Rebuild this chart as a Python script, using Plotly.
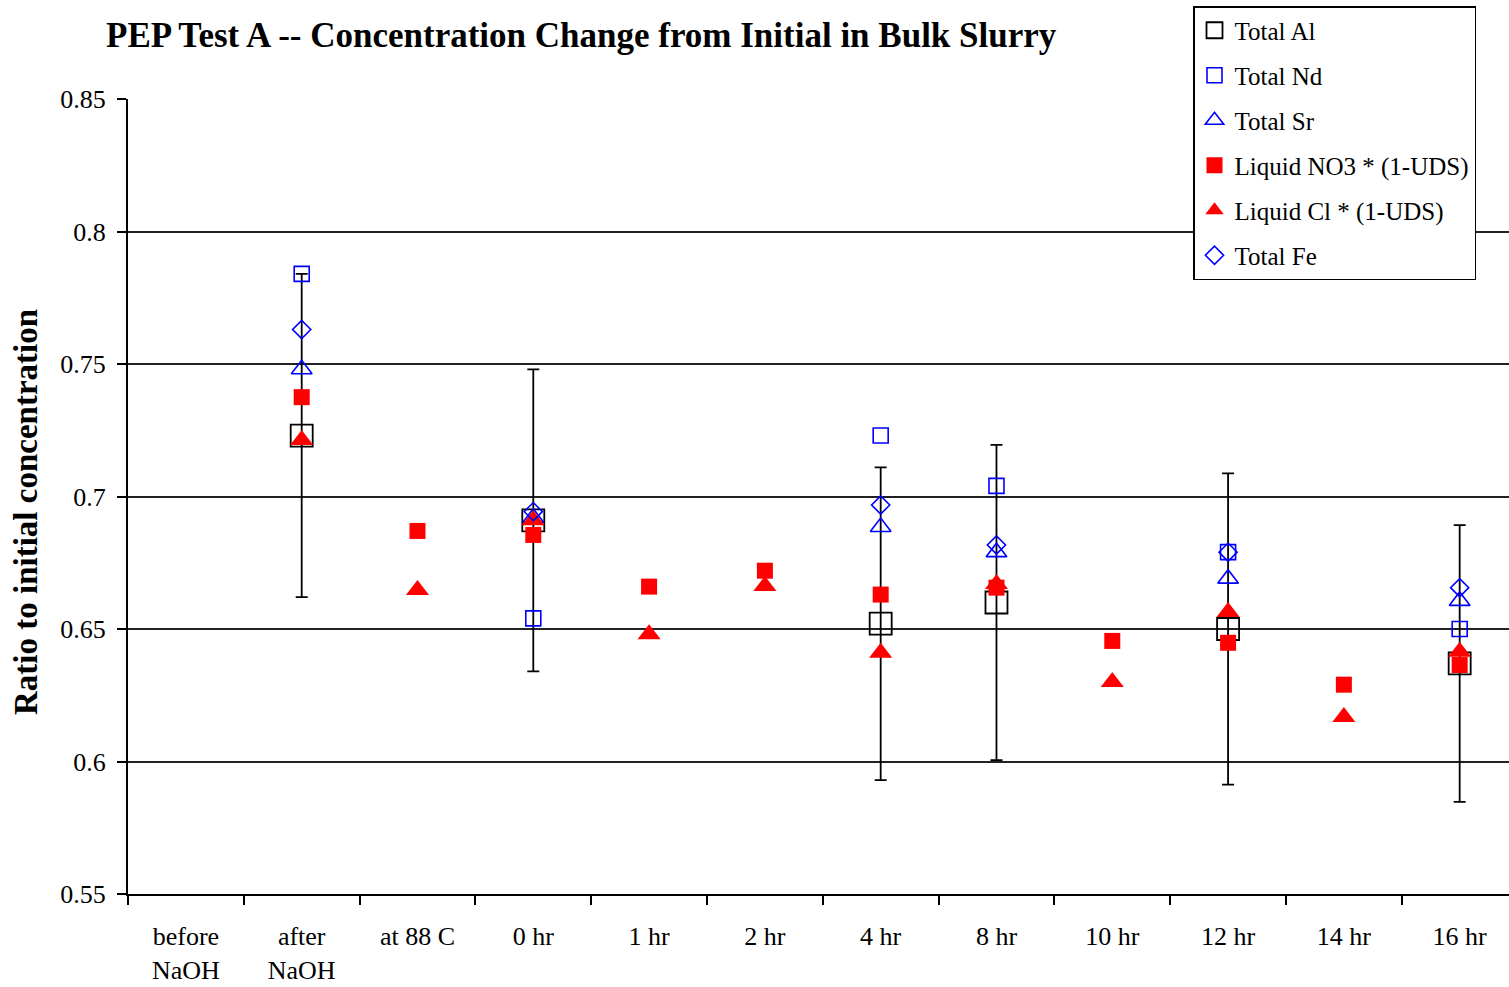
import plotly.graph_objects as go

categories = ["before<br>NaOH", "after<br>NaOH", "at 88 C", "0 hr", "1 hr", "2 hr",
              "4 hr", "8 hr", "10 hr", "12 hr", "14 hr", "16 hr"]

total_al = [None, 0.723, None, 0.691, None, None, 0.652, 0.660, None, 0.650, None, 0.637]
total_al_err = [None, 0.061, None, 0.057, None, None, 0.059, 0.0595, None, 0.0587, None, 0.0522]
total_nd = [None, 0.784, None, 0.654, None, None, 0.723, 0.704, None, 0.679, None, 0.650]
total_sr = [None, 0.748, None, 0.692, None, None, 0.6885, 0.679, None, 0.669, None, 0.6606]
liquid_no3 = [None, 0.7375, 0.687, 0.6855, 0.666, 0.672, 0.663, 0.6656, 0.6455, 0.6448, 0.629, 0.6364]
liquid_cl = [None, 0.7213, 0.6647, 0.691, 0.648, 0.6662, 0.641, 0.667, 0.630, 0.6564, 0.6168, 0.6414]
total_fe = [None, 0.763, None, 0.6943, None, None, 0.6968, 0.6817, None, 0.679, None, 0.6656]

y_ticks = [0.55, 0.6, 0.65, 0.7, 0.75, 0.8, 0.85]
y_ticktext = ["0.55", "0.6", "0.65", "0.7", "0.75", "0.8", "0.85"]

FONT = "Liberation Serif"
BLUE = "#0000FF"
RED = "#FF0000"

W, H = 1509, 987
L, T = 128, 99
PLOT_BOTTOM = 894
B = H - PLOT_BOTTOM
PW = W - L
PH = PLOT_BOTTOM - T

def px_x(ax):
    return (ax - L) / PW

def px_y(ay):
    return (PLOT_BOTTOM - ay) / PH

fig = go.Figure()

fig.add_trace(go.Scatter(
    x=categories, y=total_al, mode="markers", name="Total Al", legendgroup="a",
    marker=dict(symbol="square-open", size=22, color="black", line=dict(width=1.8, color="black")),
    error_y=dict(type="data", array=total_al_err, visible=True, color="black", thickness=1.8, width=6),
))
fig.add_trace(go.Scatter(
    x=categories, y=total_nd, mode="markers", name="Total Nd", legendgroup="b",
    marker=dict(symbol="square-open", size=15, color=BLUE, line=dict(width=1.6, color=BLUE)),
))
fig.add_trace(go.Scatter(
    x=categories, y=total_sr, mode="markers", name="Total Sr", legendgroup="c",
    marker=dict(symbol="triangle-up-open", size=18, color=BLUE, line=dict(width=1.6, color=BLUE)),
))
fig.add_trace(go.Scatter(
    x=categories, y=liquid_no3, mode="markers", name="Liquid NO3 * (1-UDS)", legendgroup="d",
    marker=dict(symbol="square", size=16, color=RED, line=dict(width=0)),
))
fig.add_trace(go.Scatter(
    x=categories, y=liquid_cl, mode="markers", name="Liquid Cl * (1-UDS)", legendgroup="e",
    marker=dict(symbol="triangle-up", size=20, color=RED, line=dict(width=0)),
))
fig.add_trace(go.Scatter(
    x=categories, y=total_fe, mode="markers", name="Total Fe", legendgroup="f",
    marker=dict(symbol="diamond-open", size=14, color=BLUE, line=dict(width=1.6, color=BLUE)),
))

fig.update_layout(
    width=W, height=H,
    margin=dict(l=L, r=0, t=T, b=B, autoexpand=False),
    paper_bgcolor="white", plot_bgcolor="white",
    font=dict(family=FONT, size=26, color="black"),
    showlegend=True,
    legend=dict(
        x=px_x(1193), xanchor="left",
        y=px_y(6), yanchor="top",
        bgcolor="white", bordercolor="black", borderwidth=1.5,
        font=dict(family=FONT, size=25, color="black"),
        tracegroupgap=9.5, traceorder="grouped",
    ),
    annotations=[
        dict(text="<b>PEP Test A -- Concentration Change from Initial in Bulk Slurry</b>",
             xref="paper", yref="paper", x=px_x(104), xanchor="left",
             y=px_y(35), yanchor="middle", showarrow=False,
             font=dict(family=FONT, size=35, color="black")),
        dict(text="<b>Ratio to initial concentration</b>",
             xref="paper", yref="paper", x=px_x(26), xanchor="center",
             y=px_y(512), yanchor="middle", showarrow=False, textangle=-90,
             font=dict(family=FONT, size=33, color="black")),
    ],
)

fig.update_xaxes(
    type="category", categoryorder="array", categoryarray=categories,
    range=[-0.5, 11.426], tickson="boundaries", automargin=False,
    ticks="outside", ticklen=9, tickwidth=1.5, tickcolor="black",
    showline=True, linecolor="black", linewidth=2,
    showgrid=False, zeroline=False, ticklabelstandoff=18,
    tickfont=dict(family=FONT, size=26, color="black"),
)
fig.update_yaxes(
    range=[0.55, 0.85], tickmode="array", tickvals=y_ticks, ticktext=y_ticktext,
    automargin=False,
    ticks="outside", ticklen=9, tickwidth=1.5, tickcolor="black",
    showline=True, linecolor="black", linewidth=2,
    showgrid=True, gridcolor="#222222", gridwidth=1.5, zeroline=False,
    ticklabelstandoff=6,
    tickfont=dict(family=FONT, size=26, color="black"),
)

fig.write_html(
    "out.html",
    config={"displayModeBar": False},
    post_script="document.body.style.margin='0';document.body.style.overflow='hidden';",
)
